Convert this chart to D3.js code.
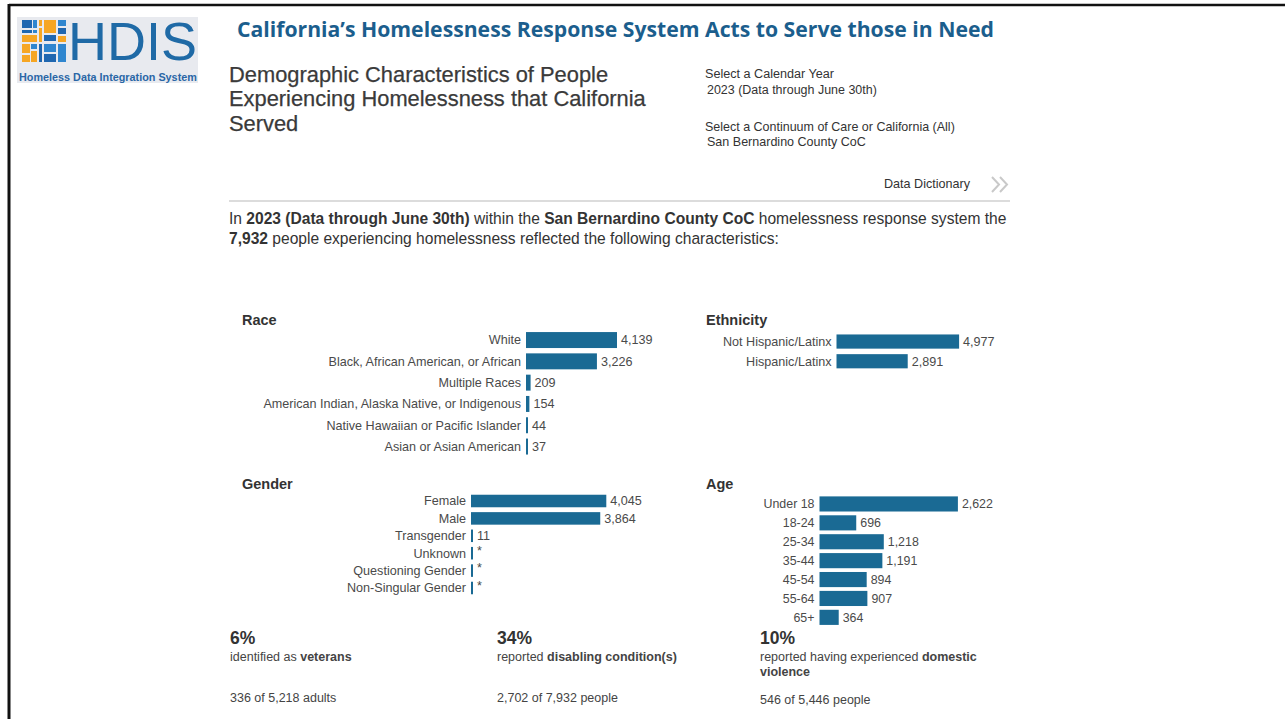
<!DOCTYPE html>
<html>
<head>
<meta charset="utf-8">
<script src="https://cdn.jsdelivr.net/npm/d3@7"></script>
<style>
  html, body { margin: 0; padding: 0; background: #ffffff; }
  svg { display: block; }
</style>
</head>
<body>
<svg id="chart" width="1285" height="719"></svg>
<script>
// ---- Data -------------------------------------------------------------
const raceCategories = ["White", "Black, African American, or African", "Multiple Races",
  "American Indian, Alaska Native, or Indigenous", "Native Hawaiian or Pacific Islander",
  "Asian or Asian American"];
const raceValues = [4139, 3226, 209, 154, 44, 37];

const ethnicityCategories = ["Not Hispanic/Latinx", "Hispanic/Latinx"];
const ethnicityValues = [4977, 2891];

const genderCategories = ["Female", "Male", "Transgender", "Unknown",
  "Questioning Gender", "Non-Singular Gender"];
const genderValues = [4045, 3864, 11, null, null, null]; // null = suppressed small count

const ageCategories = ["Under 18", "18-24", "25-34", "35-44", "45-54", "55-64", "65+"];
const ageValues = [2622, 696, 1218, 1191, 894, 907, 364];

const statPercents = ["6%", "34%", "10%"];
const statDescriptions = [
  [["identified as ", false], ["veterans", true]],
  [["reported ", false], ["disabling condition(s)", true]],
  [["reported having experienced ", false], ["domestic", true], ["\nviolence", true]]
];
const statCounts = ["336 of 5,218 adults", "2,702 of 7,932 people", "546 of 5,446 people"];

const totalPeople = "7,932";
const yearLabel = "2023 (Data through June 30th)";
const cocLabel = "San Bernardino County CoC";

// ---- Setup ------------------------------------------------------------
const svg = d3.select("#chart");
const SANS = "'Liberation Sans', Arial, sans-serif";
const BAR = "#1a6a94";
const fmt = d3.format(",");

// scale a text element's font size so its rendered width equals w
function fit(sel, w) {
  const node = sel.node();
  const fs = parseFloat(sel.attr("font-size"));
  const len = node.getComputedTextLength();
  if (len > 0) sel.attr("font-size", (fs * w / len).toFixed(2));
  return sel;
}

// frame
svg.append("rect").attr("width", 1285).attr("height", 719).attr("fill", "#fff");
svg.append("line").attr("x1", 9).attr("x2", 1285).attr("y1", 5).attr("y2", 5)
  .attr("stroke", "#111").attr("stroke-width", 2.5);
svg.append("line").attr("x1", 9).attr("x2", 9).attr("y1", 4).attr("y2", 719)
  .attr("stroke", "#111").attr("stroke-width", 3);

// ---- Logo -------------------------------------------------------------
const logo = svg.append("g");
logo.append("rect").attr("x", 17).attr("y", 17).attr("width", 181).attr("height", 66)
  .attr("fill", "#e8eaef");
const tiles = [
  [22, 20, 10, 8, "#1f67b0"], [33, 20, 4, 8, "#2f86cf"], [39, 20, 3, 6, "#f6a623"],
  [44, 20, 12, 13, "#f6a623"], [58, 20, 8, 6, "#2f86cf"],
  [22, 30, 10, 3, "#1f67b0"], [33, 30, 4, 3, "#2f86cf"],
  [22, 35, 15, 7, "#f6a623"], [39, 28, 3, 14, "#f6a623"], [58, 28, 8, 6, "#1f67b0"],
  [44, 35, 12, 6, "#1f67b0"], [58, 36, 8, 6, "#f6a623"],
  [22, 44, 8, 9, "#f6a623"], [31, 44, 6, 5, "#2f86cf"], [31, 51, 6, 11, "#f6a623"],
  [22, 55, 8, 7, "#f6a623"], [39, 44, 3, 18, "#1f67b0"],
  [44, 44, 12, 8, "#2f86cf"], [44, 54, 12, 8, "#1f67b0"], [58, 44, 8, 18, "#2f86cf"]
];
logo.selectAll("rect.tile").data(tiles).join("rect").attr("class", "tile")
  .attr("x", d => d[0]).attr("y", d => d[1]).attr("width", d => d[2]).attr("height", d => d[3])
  .attr("fill", d => d[4]);
fit(logo.append("text").attr("x", 68).attr("y", 60).attr("font-family", SANS)
  .attr("font-size", 52).attr("fill", "#1f6aa6").text("HDIS"), 129);
fit(logo.append("text").attr("x", 19).attr("y", 80.5).attr("font-family", SANS)
  .attr("font-weight", 700).attr("font-size", 9).attr("fill", "#2a66a6")
  .text("Homeless Data Integration System"), 178);

// ---- Headline ---------------------------------------------------------
fit(svg.append("text").attr("x", 237).attr("y", 37)
  .attr("font-family", "'Open Sans', sans-serif").attr("font-weight", 700)
  .attr("font-size", 20).attr("fill", "#1b5e8d")
  .text("California\u2019s Homelessness Response System Acts to Serve those in Need"), 757);

// ---- Dashboard header -------------------------------------------------
const titleLines = ["Demographic Characteristics of People",
  "Experiencing Homelessness that California", "Served"];
const titleG = svg.append("g");
titleLines.forEach((t, i) => {
  titleG.append("text").attr("x", 229).attr("y", 82 + i * 24.3)
    .attr("font-family", SANS).attr("font-size", 19).attr("fill", "#3a3a3a")
    .attr("stroke", "#3a3a3a").attr("stroke-width", 0.25).text(t);
});
fit(titleG.select("text:nth-child(2)"), 417);
titleG.selectAll("text").attr("font-size", titleG.select("text:nth-child(2)").attr("font-size"));

const selectors = [
  ["Select a Calendar Year", 705, 78, 129],
  [yearLabel, 707, 94, 170],
  ["Select a Continuum of Care or California (All)", 705, 131, 250],
  [cocLabel, 707, 146, 159],
  ["Data Dictionary", 884, 188, 86]
];
selectors.forEach(([t, x, y, w]) => {
  fit(svg.append("text").attr("x", x).attr("y", y).attr("font-family", SANS)
    .attr("font-size", 11).attr("fill", "#333").text(t), w);
});
// "more" chevrons beside the dictionary link
const chev = svg.append("g").attr("fill", "none").attr("stroke", "#c9c9c9")
  .attr("stroke-width", 2).attr("stroke-linejoin", "miter");
[992, 1000].forEach(cx => {
  chev.append("path").attr("d", d3.line()([[cx, 177], [cx + 7, 184.5], [cx, 192]]));
});

svg.append("line").attr("x1", 229).attr("x2", 1010).attr("y1", 201).attr("y2", 201)
  .attr("stroke", "#dcdcdc").attr("stroke-width", 2);

// intro sentence
const introLines = [
  [["In ", false], [yearLabel, true], [" within the ", false], [cocLabel, true],
   [" homelessness response system the", false]],
  [[totalPeople, true], [" people experiencing homelessness reflected the following characteristics:", false]]
];
let introSize = null;
introLines.forEach((parts, i) => {
  const t = svg.append("text").attr("x", 229).attr("y", 224 + i * 20)
    .attr("font-family", SANS).attr("font-size", 14).attr("fill", "#333");
  parts.forEach(([s, b]) => t.append("tspan").attr("font-weight", b ? 700 : 400).text(s));
  if (i === 0) { fit(t, 778); introSize = t.attr("font-size"); }
  else t.attr("font-size", introSize);
});

// ---- Bar panels -------------------------------------------------------
function panel(opts) {
  const { title, titleX, titleY, cats, vals, axisX, top, step, width, pad, fs } = opts;
  const g = svg.append("g");
  g.append("text").attr("x", titleX).attr("y", titleY).attr("font-family", SANS)
    .attr("font-weight", 700).attr("font-size", 14.5).attr("fill", "#333").text(title);

  const data = cats.map((c, i) => ({ c, v: vals[i] }));
  const x = d3.scaleLinear().domain([0, d3.max(vals)]).range([axisX, axisX + width]);
  const y = d3.scaleBand().domain(cats).range([top, top + step * cats.length])
    .paddingInner(pad).paddingOuter(pad / 2);
  const barW = d => Math.max(2, x(d.v || 0) - axisX);

  g.selectAll("rect.bar").data(data).join("rect").attr("class", "bar")
    .attr("x", axisX)
    .attr("y", d => y(d.c))
    .attr("width", barW)
    .attr("height", y.bandwidth())
    .attr("fill", BAR);

  g.selectAll("text.cat").data(data).join("text").attr("class", "cat")
    .attr("x", axisX - 5).attr("y", d => y(d.c) + y.bandwidth() / 2).attr("dy", "0.35em")
    .attr("text-anchor", "end").attr("font-family", SANS).attr("font-size", fs)
    .attr("fill", "#4a4a4a").text(d => d.c);

  g.selectAll("text.val").data(data).join("text").attr("class", "val")
    .attr("x", d => axisX + barW(d) + 4)
    .attr("y", d => y(d.c) + y.bandwidth() / 2)
    .attr("dy", d => d.v == null ? "0.15em" : "0.35em")
    .attr("font-family", SANS).attr("font-size", fs)
    .attr("fill", "#4a4a4a").text(d => d.v == null ? "*" : fmt(d.v));
}

panel({ title: "Race", titleX: 242, titleY: 325, cats: raceCategories, vals: raceValues,
  axisX: 526, top: 329.4, step: 21.3, width: 91, pad: 0.25, fs: 12.6 });
panel({ title: "Ethnicity", titleX: 706, titleY: 325, cats: ethnicityCategories, vals: ethnicityValues,
  axisX: 836.5, top: 331.7, step: 19.7, width: 122.6, pad: 0.28, fs: 12.6 });
panel({ title: "Gender", titleX: 242, titleY: 489, cats: genderCategories, vals: genderValues,
  axisX: 471, top: 492.3, step: 17.4, width: 135.3, pad: 0.28, fs: 12.6 });
panel({ title: "Age", titleX: 706, titleY: 489, cats: ageCategories, vals: ageValues,
  axisX: 819.5, top: 494.5, step: 18.9, width: 138.4, pad: 0.2, fs: 12.4 });

// ---- Summary statistics -----------------------------------------------
const statX = [230, 497, 760];
const STAT_FS = 12.5;
statPercents.forEach((p, i) => {
  const x = statX[i];
  svg.append("text").attr("x", x).attr("y", 644).attr("font-family", SANS)
    .attr("font-weight", 700).attr("font-size", 17.5).attr("fill", "#333").text(p);
  let line = 0;
  let t = svg.append("text").attr("x", x).attr("y", 661).attr("font-family", SANS)
    .attr("font-size", STAT_FS).attr("fill", "#444");
  statDescriptions[i].forEach(([s, b]) => {
    if (s.startsWith("\n")) {
      line += 1;
      t = svg.append("text").attr("x", x).attr("y", 661 + line * 15).attr("font-family", SANS)
        .attr("font-size", STAT_FS).attr("fill", "#444");
      s = s.slice(1);
    }
    t.append("tspan").attr("font-weight", b ? 700 : 400).text(s);
  });
  svg.append("text").attr("x", x).attr("y", i === 2 ? 704 : 702).attr("font-family", SANS)
    .attr("font-size", STAT_FS).attr("fill", "#444").text(statCounts[i]);
});
</script>
</body>
</html>
